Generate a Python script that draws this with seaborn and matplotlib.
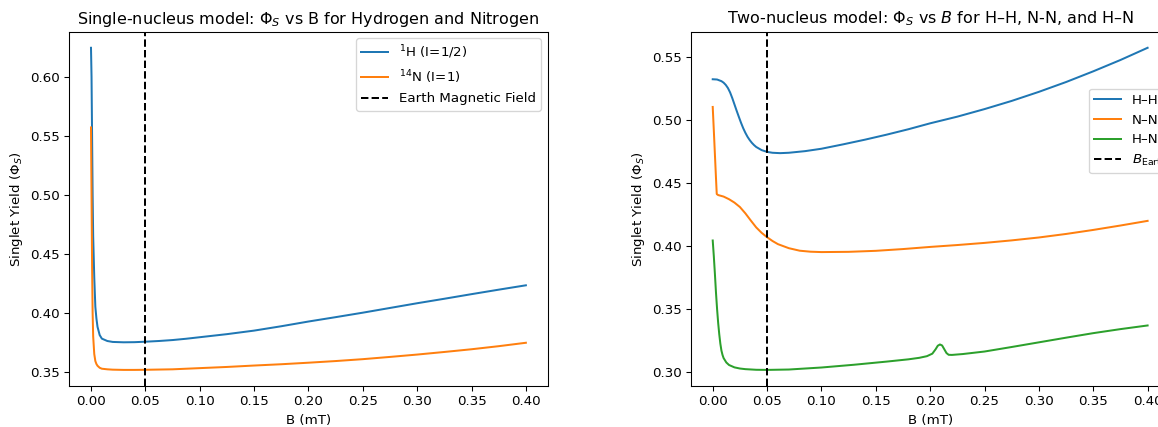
import matplotlib
matplotlib.use("Agg")
import matplotlib.pyplot as plt
import seaborn as sns

# ---- single-nucleus model ----
b_single = [0.0, 0.0005, 0.001, 0.0015, 0.002, 0.003, 0.004, 0.005, 0.006, 0.008,
            0.01, 0.015, 0.02, 0.03, 0.04, 0.05, 0.0625, 0.075, 0.0875, 0.1,
            0.125, 0.15, 0.175, 0.2, 0.225, 0.25, 0.275, 0.3, 0.325, 0.35,
            0.375, 0.4]
phi_h = [0.6245, 0.60, 0.55, 0.50, 0.465, 0.43, 0.405, 0.395, 0.388, 0.381,
         0.378, 0.376, 0.3752, 0.3749, 0.375, 0.3754, 0.376, 0.3768, 0.3779,
         0.3792, 0.3818, 0.3848, 0.3885, 0.3925, 0.3962, 0.400, 0.404, 0.408,
         0.4118, 0.4157, 0.4195, 0.4232]
phi_n = [0.557, 0.50, 0.44, 0.40, 0.38, 0.365, 0.359, 0.3565, 0.355, 0.3533,
         0.3525, 0.352, 0.3517, 0.3515, 0.3515, 0.3516, 0.3518, 0.352, 0.3525,
         0.353, 0.354, 0.3552, 0.3563, 0.3576, 0.359, 0.3606, 0.3625, 0.3645,
         0.3667, 0.369, 0.3716, 0.3745]

# ---- two-nucleus model ----
b_hh = [0.0, 0.004, 0.008, 0.01, 0.012, 0.014, 0.016, 0.018, 0.02, 0.022,
        0.024, 0.026, 0.028, 0.03, 0.032, 0.034, 0.036, 0.038, 0.04, 0.045,
        0.05, 0.055, 0.062, 0.07, 0.085, 0.1, 0.12, 0.14, 0.16, 0.18, 0.2,
        0.225, 0.25, 0.275, 0.3, 0.325, 0.35, 0.375, 0.4]
phi_hh = [0.5325, 0.5323, 0.531, 0.5298, 0.528, 0.5255, 0.522, 0.5175, 0.5125,
          0.5075, 0.5027, 0.498, 0.4937, 0.49, 0.4868, 0.4842, 0.482, 0.4802,
          0.4787, 0.4762, 0.4748, 0.4741, 0.4738, 0.4741, 0.4754, 0.4773,
          0.4808, 0.4845, 0.4885, 0.4928, 0.4975, 0.5028, 0.5088, 0.5153,
          0.5225, 0.5303, 0.5388, 0.5478, 0.5575]

b_nn = [0.0, 0.001, 0.002, 0.003, 0.0037, 0.005, 0.01, 0.015, 0.02, 0.025,
        0.03, 0.035, 0.04, 0.045, 0.05, 0.055, 0.06, 0.07, 0.08, 0.09, 0.1,
        0.125, 0.15, 0.175, 0.2, 0.225, 0.25, 0.275, 0.3, 0.325, 0.35, 0.375,
        0.4]
phi_nn = [0.5105, 0.492, 0.473, 0.454, 0.4413, 0.4405, 0.4393, 0.4372, 0.4345,
          0.431, 0.426, 0.4203, 0.4148, 0.4105, 0.407, 0.404, 0.4015, 0.3983,
          0.3963, 0.3955, 0.3952, 0.3954, 0.3962, 0.3976, 0.3993, 0.4008,
          0.4025, 0.4045, 0.4068, 0.4096, 0.4128, 0.4163, 0.42]

b_hn = [0.0, 0.001, 0.002, 0.003, 0.004, 0.005, 0.006, 0.007, 0.008, 0.009,
        0.01, 0.0125, 0.015, 0.02, 0.025, 0.03, 0.04, 0.05, 0.07, 0.1, 0.13,
        0.16, 0.18, 0.19, 0.197, 0.202, 0.205, 0.207, 0.209, 0.211, 0.213,
        0.215, 0.217, 0.22, 0.23, 0.25, 0.275, 0.3, 0.325, 0.35, 0.375, 0.4]
phi_hn = [0.4044, 0.392, 0.378, 0.363, 0.35, 0.339, 0.33, 0.3225, 0.317,
          0.3135, 0.311, 0.3075, 0.3055, 0.3036, 0.3027, 0.3022, 0.3017,
          0.3016, 0.3019, 0.3035, 0.3057, 0.3082, 0.31, 0.3112, 0.3125,
          0.3145, 0.318, 0.3208, 0.3218, 0.321, 0.318, 0.315, 0.3136, 0.3135,
          0.3142, 0.3162, 0.3198, 0.3235, 0.3272, 0.3308, 0.334, 0.3369]

B_EARTH = 0.05  # mT

DPI = 96
fig = plt.figure(figsize=(1158 / DPI, 427 / DPI), dpi=DPI)
ax1 = fig.add_axes([0.0598, 0.0960, 0.4131, 0.8298])
ax2 = fig.add_axes([0.5967, 0.0960, 0.4131, 0.8298])

# Left panel
sns.lineplot(x=b_single, y=phi_h, ax=ax1, color="C0", label=r"$^{1}$H (I=1/2)",
             estimator=None, linewidth=1.5)
sns.lineplot(x=b_single, y=phi_n, ax=ax1, color="C1", label=r"$^{14}$N (I=1)",
             estimator=None, linewidth=1.5)
ax1.axvline(B_EARTH, color="black", linestyle="--", linewidth=1.5,
            label="Earth Magnetic Field")
ax1.set_title(r"Single-nucleus model: $\Phi_S$ vs B for Hydrogen and Nitrogen")
ax1.set_xlabel("B (mT)")
ax1.set_ylabel(r"Singlet Yield ($\Phi_S$)")
ax1.legend(loc="upper right")

# Right panel
sns.lineplot(x=b_hh, y=phi_hh, ax=ax2, color="C0", label="H–H",
             estimator=None, linewidth=1.5)
sns.lineplot(x=b_nn, y=phi_nn, ax=ax2, color="C1", label="N–N",
             estimator=None, linewidth=1.5)
sns.lineplot(x=b_hn, y=phi_hn, ax=ax2, color="C2", label="H–N",
             estimator=None, linewidth=1.5)
ax2.axvline(B_EARTH, color="black", linestyle="--", linewidth=1.5,
            label=r"$B_{\mathrm{Earth}}$")
ax2.set_title(r"Two-nucleus model: $\Phi_S$ vs $B$ for H–H, N-N, and H–N")
ax2.set_xlabel("B (mT)")
ax2.set_ylabel(r"Singlet Yield ($\Phi_S$)")
ax2.legend(loc="center left", bbox_to_anchor=(0.832, 0.72), borderaxespad=0)

for ax in (ax1, ax2):
    ax.set_xticks([0.0, 0.05, 0.1, 0.15, 0.2, 0.25, 0.3, 0.35, 0.4])
    ax.set_xticklabels(["0.00", "0.05", "0.10", "0.15", "0.20", "0.25",
                        "0.30", "0.35", "0.40"])

fig.savefig("out.png", dpi=DPI)
